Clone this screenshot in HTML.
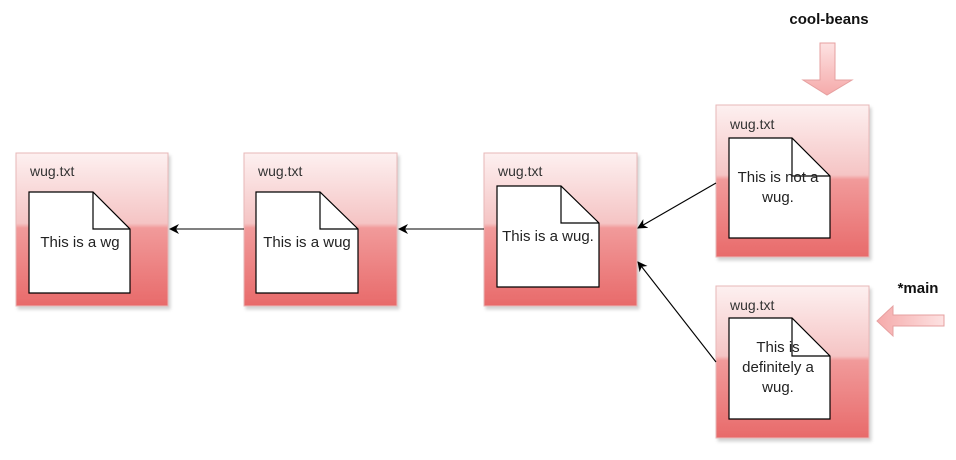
<!DOCTYPE html>
<html><head><meta charset="utf-8"><style>
html,body{margin:0;padding:0;background:#fff;}
svg{display:block;font-family:"Liberation Sans",Arial,sans-serif;}
</style></head><body>
<svg width="956" height="460" viewBox="0 0 956 460" xmlns="http://www.w3.org/2000/svg">
<defs>
<linearGradient id="g" x1="0" y1="0" x2="0" y2="1">
<stop offset="0" stop-color="#fdf0f0"/>
<stop offset="0.46" stop-color="#f5c4c4"/>
<stop offset="0.49" stop-color="#f19a9a"/>
<stop offset="1" stop-color="#e86a6a"/>
</linearGradient>
<linearGradient id="ba" x1="0" y1="0" x2="0" y2="1">
<stop offset="0" stop-color="#fde2e2"/>
<stop offset="1" stop-color="#f5aaaa"/>
</linearGradient>
<linearGradient id="bh" x1="0" y1="0" x2="1" y2="0">
<stop offset="0" stop-color="#f5aaaa"/>
<stop offset="1" stop-color="#fde2e2"/>
</linearGradient>
<marker id="ar" markerWidth="10" markerHeight="10" refX="9" refY="5" orient="auto" markerUnits="userSpaceOnUse">
<path d="M0,0 L10,5 L0,10 L3,5 Z" fill="#000"/>
</marker>
<filter id="sh" x="-10%" y="-10%" width="130%" height="130%">
<feDropShadow dx="2" dy="3" stdDeviation="1.5" flood-color="#000" flood-opacity="0.18"/>
</filter>
</defs>

<g filter="url(#sh)" stroke="#e8b8b8" stroke-width="1">
<rect x="16" y="153" width="152" height="153" fill="url(#g)"/>
<rect x="244" y="153" width="153" height="153" fill="url(#g)"/>
<rect x="484" y="153" width="153" height="153" fill="url(#g)"/>
<rect x="716" y="105" width="153" height="152" fill="url(#g)"/>
<rect x="716" y="286" width="153" height="152" fill="url(#g)"/>
</g>

<g font-size="14" fill="#333">
<text x="30" y="176">wug.txt</text>
<text x="258" y="176">wug.txt</text>
<text x="498" y="176">wug.txt</text>
<text x="730" y="129">wug.txt</text>
<text x="730" y="310">wug.txt</text>
</g>

<g fill="#fff" stroke="#000" stroke-width="1.2">
<path d="M29,192 H93 L130,229 V293 H29 Z"/><path d="M93,192 V229 H130" fill="none"/>
<path d="M256,192 H320 L358,229 V293 H256 Z"/><path d="M320,192 V229 H358" fill="none"/>
<path d="M497,186 H561 L599,223 V287 H497 Z"/><path d="M561,186 V223 H599" fill="none"/>
<path d="M729,138 H792 L830,176 V238 H729 Z"/><path d="M792,138 V176 H830" fill="none"/>
<path d="M729,318 H792 L830,356 V419 H729 Z"/><path d="M792,318 V356 H830" fill="none"/>
</g>

<g font-size="15" fill="#222" text-anchor="middle">
<text x="80" y="247">This is a wg</text>
<text x="307" y="247">This is a wug</text>
<text x="548" y="241">This is a wug.</text>
<text x="778" y="182">This is not a</text>
<text x="778" y="202">wug.</text>
<text x="778" y="352">This is</text>
<text x="778" y="372">definitely a</text>
<text x="778" y="392">wug.</text>
</g>

<g stroke="#000" stroke-width="1.1" fill="none" marker-end="url(#ar)">
<line x1="244" y1="229" x2="170" y2="229"/>
<line x1="484" y1="229" x2="399" y2="229"/>
<line x1="716" y1="183" x2="638" y2="228"/>
<line x1="716" y1="362" x2="638" y2="262"/>
</g>

<path d="M820,43 H835 V80 H852 L827,95 L803,80 H820 Z" fill="url(#ba)" stroke="#e6a0a0" stroke-width="1"/>
<path d="M944,315 V326 H893 V336 L877,321 L893,306 V315 Z" fill="url(#bh)" stroke="#e6a0a0" stroke-width="1"/>

<g font-size="15" font-weight="bold" fill="#111">
<text x="829" y="24" text-anchor="middle">cool-beans</text>
<text x="918" y="293" text-anchor="middle">*main</text>
</g>
</svg>
</body></html>
